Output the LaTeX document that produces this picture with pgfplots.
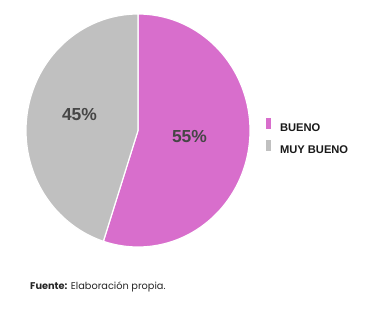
\documentclass[border=0pt]{standalone}
\usepackage{pgfplots}
\usepackage{pgfplotstable}
\pgfplotsset{compat=1.18}
\usepackage{fontspec}
\setmainfont{Liberation Sans}
\newfontfamily\pop{Poppins}
\definecolor{pinkc}{RGB}{216,110,204}
\definecolor{grayc}{RGB}{192,192,192}
\definecolor{lblc}{RGB}{70,70,70}
\pgfplotstableread{
label value
BUENO 55
MUYBUENO 45
}\piedata
\pgfplotstablegetelem{0}{value}\of\piedata
\pgfmathsetmacro{\angA}{\pgfplotsretval*3.6}
\begin{document}
\begin{tikzpicture}
\begin{axis}[
  scale only axis, width=382bp, height=325bp,
  xmin=0, xmax=382, ymin=0, ymax=325, y dir=reverse,
  hide axis, clip=false,
  legend style={at={(axis cs:265.5,135.5)}, anchor=west, draw=none, fill=none,
    inner sep=0pt, font=\fontsize{11.2}{12}\selectfont\bfseries, text=black!90,
    row sep=9bp, nodes={inner sep=0pt, text height=8bp, text depth=0pt}},
  legend cell align=left,
  legend image code/.code={\path[#1, draw=none] (0bp,-1.5bp) rectangle (5.3bp,9.5bp);},
]
\path (rel axis cs:0,0) rectangle (rel axis cs:1,1);
\addplot[fill=pinkc, draw=white, line width=1.2pt, domain=0:\angA, samples=150, variable=\t]
  ({138+112*sin(\t)},{130.5-116.5*cos(\t)}) -- (axis cs:138,130.5) -- cycle;
\addlegendentry{\hspace{9bp}BUENO}
\addplot[fill=grayc, draw=white, line width=1.2pt, domain=\angA:360, samples=150, variable=\t]
  ({138+112*sin(\t)},{130.5-116.5*cos(\t)}) -- (axis cs:138,130.5) -- cycle;
\addlegendentry{\hspace{9bp}MUY BUENO}
\node[font=\fontsize{17.5}{18}\selectfont\bfseries, text=lblc] at (axis cs:79.5,114.5) {45\%};
\node[font=\fontsize{17.5}{18}\selectfont\bfseries, text=lblc] at (axis cs:189.5,136.5) {55\%};
\node[anchor=west, inner sep=0pt, font=\pop\fontsize{9.8}{11}\selectfont, text=black!85] at (axis cs:30,287) {\textbf{Fuente:} Elaboración propia.};
\end{axis}
\end{tikzpicture}
\end{document}
